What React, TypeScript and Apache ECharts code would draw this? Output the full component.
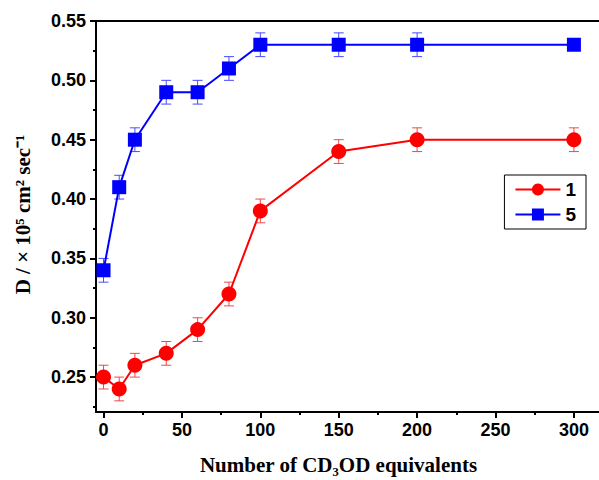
import React, { useEffect, useRef } from "react";
import * as echarts from "echarts";

const xValues = [0, 10, 20, 40, 60, 80, 100, 150, 200, 300];
const series1 = [0.25, 0.24, 0.26, 0.27, 0.29, 0.32, 0.39, 0.44, 0.45, 0.45];
const series5 = [0.34, 0.41, 0.45, 0.49, 0.49, 0.51, 0.53, 0.53, 0.53, 0.53];
const err1 = [0.01, 0.01, 0.01, 0.01, 0.01, 0.01, 0.01, 0.01, 0.01, 0.01];
const err5 = [0.01, 0.01, 0.01, 0.01, 0.01, 0.01, 0.01, 0.01, 0.01, 0];
const xMajorTicks = [0, 50, 100, 150, 200, 250, 300];
const xMinorTicks = [25, 75, 125, 175, 225, 275];
const yMajorTicks = [0.25, 0.3, 0.35, 0.4, 0.45, 0.5, 0.55];
const yMinorTicks = [0.225, 0.275, 0.325, 0.375, 0.425, 0.475, 0.525];
const seriesNames = ["1", "5"];

const X_MIN = -4.8;
const X_MAX = 316;
const Y_MIN = 0.2206;
const Y_MAX = 0.55;

const labelFont = { fontFamily: "Liberation Sans, Arial, sans-serif", fontWeight: "bold" as const, fontSize: 18, color: "#000" };
const titleFont = { fontFamily: "Liberation Serif, Times New Roman, serif", fontWeight: "bold" as const, fontSize: 21, color: "#000" };

function errorSeries(ys: number[], errs: number[], color: string) {
  return {
    type: "custom",
    xAxisIndex: 0,
    yAxisIndex: 0,
    z: 1,
    silent: true,
    data: xValues.map((x, i) => [x, ys[i] - errs[i], ys[i] + errs[i]]),
    renderItem: (params: any, api: any) => {
      const lo = api.coord([api.value(0), api.value(1)]);
      const hi = api.coord([api.value(0), api.value(2)]);
      if (Math.abs(hi[1] - lo[1]) < 0.5) return { type: "group", children: [] };
      const w = 5;
      const style = { stroke: color, lineWidth: 1 };
      return {
        type: "group",
        children: [
          { type: "line", shape: { x1: lo[0], y1: lo[1], x2: hi[0], y2: hi[1] }, style },
          { type: "line", shape: { x1: lo[0] - w, y1: lo[1], x2: lo[0] + w, y2: lo[1] }, style },
          { type: "line", shape: { x1: hi[0] - w, y1: hi[1], x2: hi[0] + w, y2: hi[1] }, style },
        ],
      };
    },
  };
}

export default function App() {
  const ref = useRef<HTMLDivElement>(null);
  useEffect(() => {
    if (!ref.current) return;
    const chart = echarts.init(ref.current, null, { renderer: "svg" });
    const axisLine = { show: true, onZero: false, lineStyle: { color: "#000", width: 2 } };
    const hiddenLine = { show: false, onZero: false };
    chart.setOption({
      animation: false,
      backgroundColor: "#fff",
      grid: { left: 96, top: 21, right: 0, bottom: 67, containLabel: false },
      legend: {
        data: seriesNames,
        orient: "vertical",
        right: 13,
        top: 175,
        borderColor: "#000",
        borderWidth: 1,
        padding: [5, 10, 5, 10],
        itemGap: 6,
        itemWidth: 45,
        itemHeight: 15,
        textStyle: { ...labelFont, fontSize: 19 },
      },
      xAxis: [
        {
          type: "value",
          min: X_MIN,
          max: X_MAX,
          position: "bottom",
          axisLine,
          splitLine: { show: false },
          axisTick: { show: true, customValues: xMajorTicks, length: 6, lineStyle: { color: "#000", width: 2 } },
          axisLabel: { show: true, customValues: xMajorTicks, margin: 9, ...labelFont },
          name: "Number of CD₃OD equivalents",
          nameLocation: "middle",
          nameGap: 42,
          nameTextStyle: { ...titleFont, padding: [0, 18, 0, 0] },
        },
        {
          type: "value",
          min: X_MIN,
          max: X_MAX,
          position: "bottom",
          axisLine: hiddenLine,
          splitLine: { show: false },
          axisTick: { show: true, customValues: xMinorTicks, length: 3, lineStyle: { color: "#000", width: 2 } },
          axisLabel: { show: false },
        },
        {
          type: "value",
          min: X_MIN,
          max: X_MAX,
          position: "top",
          axisLine,
          splitLine: { show: false },
          axisTick: { show: false },
          axisLabel: { show: false },
        },
      ],
      yAxis: [
        {
          type: "value",
          min: Y_MIN,
          max: Y_MAX,
          position: "left",
          axisLine,
          splitLine: { show: false },
          axisTick: { show: true, customValues: yMajorTicks, length: 6, lineStyle: { color: "#000", width: 2 } },
          axisLabel: {
            show: true,
            customValues: yMajorTicks,
            margin: 10,
            formatter: (v: number) => v.toFixed(2),
            ...labelFont,
          },
          name: "D / × 10⁵ cm² sec⁻¹",
          nameLocation: "middle",
          nameGap: 63,
          nameTextStyle: { ...titleFont, padding: [0, 0, 0, 4] },
        },
        {
          type: "value",
          min: Y_MIN,
          max: Y_MAX,
          position: "left",
          axisLine: hiddenLine,
          splitLine: { show: false },
          axisTick: { show: true, customValues: yMinorTicks, length: 3, lineStyle: { color: "#000", width: 2 } },
          axisLabel: { show: false },
        },
      ],
      series: [
        errorSeries(series1, err1, "#f04848"),
        errorSeries(series5, err5, "#4a4aff"),
        {
          name: seriesNames[0],
          type: "line",
          xAxisIndex: 0,
          yAxisIndex: 0,
          z: 3,
          data: xValues.map((x, i) => [x, series1[i]]),
          symbol: "circle",
          symbolSize: 15,
          itemStyle: { color: "#ff0000" },
          lineStyle: { color: "#ff0000", width: 2 },
        },
        {
          name: seriesNames[1],
          type: "line",
          xAxisIndex: 0,
          yAxisIndex: 0,
          z: 3,
          data: xValues.map((x, i) => [x, series5[i]]),
          symbol: "rect",
          symbolSize: 14,
          itemStyle: { color: "#0000ff" },
          lineStyle: { color: "#0000ff", width: 2 },
        },
      ],
    });
    return () => chart.dispose();
  }, []);
  return (
    <div
      ref={ref}
      style={{ position: "fixed", left: 0, top: 0, width: 599, height: 480 }}
    />
  );
}
